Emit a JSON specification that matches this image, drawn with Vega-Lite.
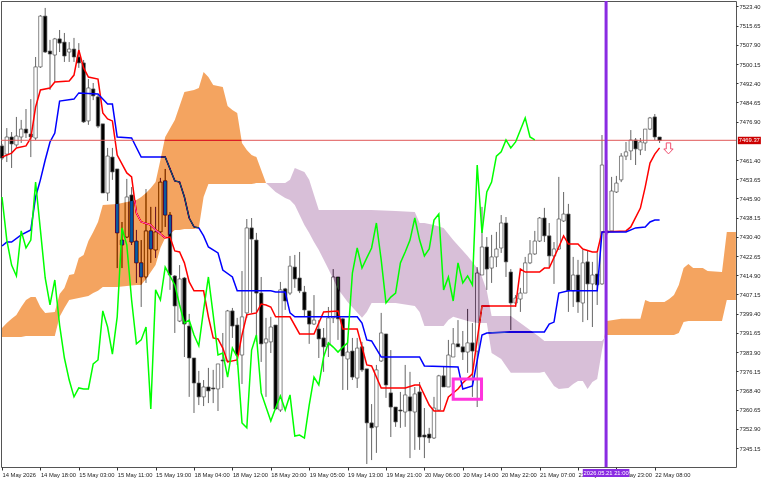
{"$schema":"https://vega.github.io/schema/vega-lite/v6.json","width":735,"height":466,"autosize":{"type":"none"},"padding":{"left":1,"top":1,"right":32,"bottom":13},"background":"#ffffff",
"config":{"view":{"stroke":"#555555","strokeWidth":1,"fill":"#ffffff"},"font":"Liberation Sans"},
"resolve":{"axis":{"x":"independent","y":"independent"}},
"datasets":{
"candles":[
{"i":0,"h":7467.9,"o":7467.1,"c":7462.2,"l":7461.4},{"i":1,"h":7474.3,"o":7463.8,"c":7470.7,"l":7460.6},{"i":2,"h":7472.7,"o":7470.7,"c":7467.9,"l":7458.2},{"i":3,"h":7478.8,"o":7467.5,"c":7471.1,"l":7466.7},{"i":4,"h":7477.6,"o":7470.7,"c":7473.9,"l":7468.3},{"i":5,"h":7482.0,"o":7473.9,"c":7472.3,"l":7470.3},{"i":6,"h":7486.0,"o":7471.9,"c":7470.7,"l":7462.6},{"i":7,"h":7503.0,"o":7470.3,"c":7499.0,"l":7469.5},{"i":8,"h":7519.9,"o":7499.0,"c":7519.5,"l":7498.6},{"i":9,"h":7522.8,"o":7519.5,"c":7505.0,"l":7504.6},
{"i":10,"h":7509.9,"o":7505.4,"c":7504.2,"l":7489.7},{"i":11,"h":7510.7,"o":7503.8,"c":7510.3,"l":7492.9},{"i":12,"h":7513.9,"o":7510.3,"c":7508.6,"l":7505.0},{"i":13,"h":7512.7,"o":7509.0,"c":7503.4,"l":7501.0},{"i":14,"h":7509.0,"o":7505.0,"c":7506.2,"l":7501.0},{"i":15,"h":7510.7,"o":7506.2,"c":7503.0,"l":7501.0},{"i":16,"h":7508.6,"o":7503.0,"c":7500.6,"l":7498.6},{"i":17,"h":7501.8,"o":7500.6,"c":7476.8,"l":7476.4},{"i":18,"h":7494.1,"o":7477.2,"c":7490.5,"l":7475.6},{"i":19,"h":7492.5,"o":7490.1,"c":7487.3,"l":7485.6},
{"i":20,"h":7487.7,"o":7486.9,"c":7475.1,"l":7474.3},{"i":21,"h":7476.0,"o":7476.0,"c":7448.1,"l":7448.1},{"i":22,"h":7466.3,"o":7448.1,"c":7463.0,"l":7444.9},{"i":23,"h":7466.3,"o":7462.6,"c":7456.6,"l":7453.4},{"i":24,"h":7457.8,"o":7457.8,"c":7432.0,"l":7417.8},{"i":25,"h":7436.4,"o":7429.1,"c":7427.1,"l":7417.8},{"i":26,"h":7453.8,"o":7430.3,"c":7446.5,"l":7429.9},{"i":27,"h":7450.5,"o":7447.3,"c":7428.3,"l":7427.1},{"i":28,"h":7433.2,"o":7428.7,"c":7419.9,"l":7411.8},{"i":29,"h":7429.1,"o":7419.9,"c":7414.2,"l":7402.1},
{"i":30,"h":7449.7,"o":7414.2,"c":7432.8,"l":7411.8},{"i":31,"h":7442.5,"o":7432.8,"c":7425.5,"l":7419.9},{"i":32,"h":7442.5,"o":7425.1,"c":7432.4,"l":7421.9},{"i":33,"h":7454.2,"o":7432.4,"c":7452.5,"l":7431.2},{"i":34,"h":7457.8,"o":7453.0,"c":7439.2,"l":7434.4},{"i":35,"h":7440.4,"o":7439.2,"c":7415.0,"l":7409.0},{"i":36,"h":7415.0,"o":7414.6,"c":7402.5,"l":7391.6},{"i":37,"h":7419.0,"o":7396.4,"c":7413.4,"l":7396.0},{"i":38,"h":7414.2,"o":7413.8,"c":7395.2,"l":7381.9},{"i":39,"h":7399.3,"o":7394.4,"c":7381.5,"l":7365.8},
{"i":40,"h":7381.5,"o":7381.5,"c":7371.4,"l":7359.3},{"i":41,"h":7376.3,"o":7371.4,"c":7365.8,"l":7362.5},{"i":42,"h":7372.6,"o":7365.8,"c":7369.8,"l":7362.1},{"i":43,"h":7377.5,"o":7369.8,"c":7368.2,"l":7363.3},{"i":44,"h":7376.7,"o":7369.4,"c":7369.0,"l":7363.3},{"i":45,"h":7379.1,"o":7369.0,"c":7379.1,"l":7360.1},{"i":46,"h":7391.6,"o":7380.7,"c":7380.3,"l":7369.4},{"i":47,"h":7400.9,"o":7380.3,"c":7400.5,"l":7379.9},{"i":48,"h":7401.7,"o":7400.5,"c":7394.4,"l":7389.6},{"i":49,"h":7397.7,"o":7394.8,"c":7382.7,"l":7378.7},
{"i":50,"h":7416.6,"o":7382.7,"c":7398.1,"l":7371.0},{"i":51,"h":7437.6,"o":7399.7,"c":7434.0,"l":7397.7},{"i":52,"h":7438.0,"o":7434.0,"c":7429.5,"l":7399.7},{"i":53,"h":7432.0,"o":7429.1,"c":7407.7,"l":7388.0},{"i":54,"h":7414.2,"o":7407.7,"c":7387.2,"l":7379.9},{"i":55,"h":7397.7,"o":7387.6,"c":7389.2,"l":7365.8},{"i":56,"h":7398.1,"o":7388.0,"c":7394.0,"l":7383.5},{"i":57,"h":7394.8,"o":7394.8,"c":7360.9,"l":7360.5},{"i":58,"h":7412.2,"o":7360.5,"c":7409.0,"l":7359.7},{"i":59,"h":7409.8,"o":7409.4,"c":7404.5,"l":7400.9},
{"i":60,"h":7422.7,"o":7407.7,"c":7418.6,"l":7406.9},{"i":61,"h":7423.1,"o":7418.2,"c":7413.4,"l":7409.8},{"i":62,"h":7424.3,"o":7413.8,"c":7408.6,"l":7407.7},{"i":63,"h":7410.6,"o":7408.1,"c":7400.9,"l":7398.1},{"i":64,"h":7400.5,"o":7400.5,"c":7395.2,"l":7387.2},{"i":65,"h":7406.9,"o":7395.2,"c":7396.8,"l":7394.8},{"i":66,"h":7396.8,"o":7393.2,"c":7389.2,"l":7381.5},{"i":67,"h":7393.6,"o":7389.6,"c":7386.0,"l":7375.9},{"i":68,"h":7402.1,"o":7386.8,"c":7397.7,"l":7381.9},{"i":69,"h":7417.4,"o":7397.7,"c":7414.2,"l":7395.6},
{"i":70,"h":7414.2,"o":7414.2,"c":7397.3,"l":7388.8},{"i":71,"h":7397.7,"o":7397.3,"c":7382.3,"l":7368.6},{"i":72,"h":7388.8,"o":7381.1,"c":7383.9,"l":7368.6},{"i":73,"h":7389.6,"o":7384.3,"c":7373.8,"l":7372.6},{"i":74,"h":7389.6,"o":7373.4,"c":7385.5,"l":7369.4},{"i":75,"h":7388.0,"o":7386.0,"c":7376.7,"l":7375.9},{"i":76,"h":7377.1,"o":7377.1,"c":7355.3,"l":7338.7},{"i":77,"h":7362.9,"o":7355.3,"c":7353.3,"l":7340.3},{"i":78,"h":7378.7,"o":7353.7,"c":7376.7,"l":7343.2},{"i":79,"h":7399.7,"o":7380.3,"c":7391.6,"l":7379.9},
{"i":80,"h":7391.2,"o":7391.2,"c":7370.6,"l":7365.4},{"i":81,"h":7384.7,"o":7367.4,"c":7361.7,"l":7349.6},{"i":82,"h":7361.7,"o":7361.7,"c":7355.7,"l":7353.7},{"i":83,"h":7367.8,"o":7360.5,"c":7360.1,"l":7353.3},{"i":84,"h":7378.7,"o":7359.7,"c":7366.6,"l":7353.7},{"i":85,"h":7375.9,"o":7365.8,"c":7360.1,"l":7341.1},{"i":86,"h":7369.8,"o":7359.7,"c":7367.0,"l":7344.4},{"i":87,"h":7371.8,"o":7367.8,"c":7349.6,"l":7344.4},{"i":88,"h":7361.3,"o":7350.4,"c":7349.6,"l":7341.1},{"i":89,"h":7353.3,"o":7350.8,"c":7349.2,"l":7347.2},
{"i":90,"h":7365.8,"o":7349.2,"c":7361.3,"l":7348.8},{"i":91,"h":7374.7,"o":7360.5,"c":7374.3,"l":7360.1},{"i":92,"h":7377.9,"o":7374.3,"c":7369.8,"l":7369.8},{"i":93,"h":7388.8,"o":7369.8,"c":7382.7,"l":7369.8},{"i":94,"h":7393.6,"o":7381.9,"c":7387.2,"l":7381.9},{"i":95,"h":7396.8,"o":7387.2,"c":7386.0,"l":7386.0},{"i":96,"h":7392.4,"o":7386.0,"c":7383.9,"l":7380.7},{"i":97,"h":7401.3,"o":7383.9,"c":7387.6,"l":7375.5},{"i":98,"h":7395.6,"o":7387.6,"c":7384.3,"l":7365.8},{"i":99,"h":7418.2,"o":7384.3,"c":7415.8,"l":7361.7},
{"i":100,"h":7442.5,"o":7415.0,"c":7426.3,"l":7415.0},{"i":101,"h":7430.3,"o":7426.3,"c":7417.4,"l":7409.0},{"i":102,"h":7431.2,"o":7417.8,"c":7422.3,"l":7411.8},{"i":103,"h":7432.4,"o":7422.3,"c":7425.5,"l":7418.2},{"i":104,"h":7439.2,"o":7425.9,"c":7436.0,"l":7423.9},{"i":105,"h":7438.4,"o":7436.0,"c":7420.3,"l":7414.2},{"i":106,"h":7417.4,"o":7416.2,"c":7403.7,"l":7392.8},{"i":107,"h":7406.9,"o":7403.7,"c":7405.7,"l":7402.1},{"i":108,"h":7409.8,"o":7405.3,"c":7407.7,"l":7400.1},{"i":109,"h":7422.3,"o":7407.7,"c":7419.9,"l":7407.7},
{"i":110,"h":7429.1,"o":7419.9,"c":7423.5,"l":7419.4},{"i":111,"h":7432.8,"o":7423.5,"c":7428.7,"l":7423.1},{"i":112,"h":7438.4,"o":7428.7,"c":7438.0,"l":7428.3},{"i":113,"h":7442.1,"o":7438.0,"c":7430.8,"l":7428.3},{"i":114,"h":7436.0,"o":7430.8,"c":7422.7,"l":7418.2},{"i":115,"h":7428.3,"o":7422.7,"c":7425.5,"l":7411.4},{"i":116,"h":7454.6,"o":7425.5,"c":7437.6,"l":7425.1},{"i":117,"h":7448.5,"o":7436.8,"c":7439.6,"l":7436.4},{"i":118,"h":7443.7,"o":7439.6,"c":7408.6,"l":7400.1},{"i":119,"h":7422.3,"o":7408.6,"c":7415.0,"l":7402.1},
{"i":120,"h":7421.1,"o":7415.0,"c":7404.1,"l":7399.7},{"i":121,"h":7425.1,"o":7403.7,"c":7419.9,"l":7396.0},{"i":122,"h":7424.7,"o":7420.3,"c":7411.4,"l":7396.8},{"i":123,"h":7420.3,"o":7411.4,"c":7415.0,"l":7394.0},{"i":124,"h":7423.9,"o":7415.4,"c":7411.0,"l":7402.9},{"i":125,"h":7471.5,"o":7411.4,"c":7459.4,"l":7411.0},{"i":126,"h":7461.4,"o":7432.8,"c":7432.0,"l":7431.2},{"i":127,"h":7454.6,"o":7432.8,"c":7448.9,"l":7432.4},{"i":128,"h":7455.0,"o":7448.5,"c":7452.1,"l":7448.1},{"i":129,"h":7464.2,"o":7453.4,"c":7463.0,"l":7452.5},
{"i":130,"h":7468.7,"o":7463.0,"c":7464.7,"l":7461.4},{"i":131,"h":7473.5,"o":7465.1,"c":7469.5,"l":7461.4},{"i":132,"h":7470.3,"o":7469.5,"c":7465.9,"l":7459.4},{"i":133,"h":7470.3,"o":7465.5,"c":7468.7,"l":7463.4},{"i":134,"h":7473.9,"o":7468.3,"c":7473.9,"l":7465.1},{"i":135,"h":7478.8,"o":7473.9,"c":7478.4,"l":7473.5},{"i":136,"h":7480.0,"o":7478.8,"c":7470.7,"l":7469.5},{"i":137,"h":7470.7,"o":7470.7,"c":7469.3,"l":7468.3}],
"red":[{"i":0,"p":7462.6},{"i":2,"p":7464.2},{"i":3,"p":7466.3},{"i":5,"p":7467.1},{"i":6,"p":7470.3},{"i":7,"p":7482.8},{"i":8,"p":7489.7},{"i":10,"p":7490.5},{"i":11,"p":7492.9},{"i":14,"p":7493.3},{"i":15,"p":7495.7},{"i":16,"p":7505.8},{"i":17,"p":7498.6},{"i":18,"p":7494.9},{"i":20,"p":7494.1},{"i":21,"p":7480.4},{"i":22,"p":7478.0},{"i":23,"p":7477.2},{"i":24,"p":7463.4},{"i":26,"p":7456.2},{"i":27,"p":7454.6},{"i":28,"p":7440.0},{"i":29,"p":7436.4},{"i":31,"p":7435.2},{"i":32,"p":7433.2},{"i":34,"p":7430.0},{"i":35,"p":7430.3},{"i":36,"p":7424.7},{"i":37,"p":7424.3},{"i":38,"p":7419.9},{"i":39,"p":7412.2},{"i":40,"p":7408.6},{"i":42,"p":7408.6},{"i":43,"p":7398.1},{"i":44,"p":7389.6},{"i":45,"p":7389.2},{"i":46,"p":7385.5},{"i":47,"p":7379.9},{"i":49,"p":7380.7},{"i":50,"p":7390.8},{"i":51,"p":7398.9},{"i":53,"p":7399.7},{"i":54,"p":7403.3},{"i":55,"p":7402.9},{"i":56,"p":7402.1},{"i":57,"p":7398.1},{"i":60,"p":7398.1},{"i":62,"p":7391.2},{"i":65,"p":7391.2},{"i":67,"p":7400.1},{"i":70,"p":7400.5},{"i":71,"p":7393.2},{"i":74,"p":7393.2},{"i":76,"p":7378.7},{"i":77,"p":7378.3},{"i":79,"p":7369.4},{"i":84,"p":7369.4},{"i":86,"p":7370.6},{"i":87,"p":7370.6},{"i":89,"p":7362.5},{"i":90,"p":7360.1},{"i":92,"p":7360.1},{"i":93,"p":7365.8},{"i":95,"p":7369.0},{"i":96,"p":7371.4},{"i":98,"p":7375.1},{"i":99,"p":7388.8},{"i":100,"p":7402.5},{"i":107,"p":7402.5},{"i":108,"p":7417.4},{"i":109,"p":7416.2},{"i":112,"p":7416.2},{"i":113,"p":7417.8},{"i":114,"p":7417.8},{"i":116,"p":7426.3},{"i":117,"p":7430.8},{"i":118,"p":7427.5},{"i":120,"p":7427.5},{"i":121,"p":7425.5},{"i":123,"p":7424.3},{"i":124,"p":7424.3},{"i":125,"p":7432.4},{"i":130,"p":7432.8},{"i":131,"p":7434.4},{"i":133,"p":7442.0},{"i":134,"p":7450.5},{"i":135,"p":7460.2},{"i":136,"p":7463.8},{"i":137,"p":7466.3}],
"blue":[{"i":0,"p":7426.7},{"i":1,"p":7428.3},{"i":2,"p":7428.3},{"i":4,"p":7431.2},{"i":6,"p":7433.2},{"i":7,"p":7446.5},{"i":8,"p":7453.4},{"i":9,"p":7461.4},{"i":10,"p":7468.7},{"i":11,"p":7472.3},{"i":12,"p":7485.2},{"i":15,"p":7486.0},{"i":16,"p":7488.5},{"i":20,"p":7488.1},{"i":22,"p":7484.0},{"i":23,"p":7484.0},{"i":24,"p":7470.7},{"i":27,"p":7470.3},{"i":29,"p":7462.6},{"i":34,"p":7462.6},{"i":36,"p":7453.0},{"i":37,"p":7452.5},{"i":38,"p":7446.5},{"i":39,"p":7438.0},{"i":40,"p":7434.4},{"i":41,"p":7434.0},{"i":42,"p":7430.8},{"i":43,"p":7426.3},{"i":45,"p":7423.9},{"i":46,"p":7417.0},{"i":48,"p":7414.2},{"i":49,"p":7408.6},{"i":56,"p":7408.6},{"i":57,"p":7408.1},{"i":59,"p":7408.1},{"i":60,"p":7399.7},{"i":61,"p":7398.1},{"i":74,"p":7398.1},{"i":75,"p":7395.6},{"i":76,"p":7388.8},{"i":77,"p":7388.4},{"i":79,"p":7381.9},{"i":87,"p":7381.9},{"i":88,"p":7378.3},{"i":95,"p":7377.9},{"i":96,"p":7369.0},{"i":98,"p":7370.2},{"i":100,"p":7390.8},{"i":101,"p":7391.6},{"i":106,"p":7392.0},{"i":113,"p":7392.0},{"i":114,"p":7395.2},{"i":115,"p":7396.0},{"i":116,"p":7407.7},{"i":118,"p":7408.6},{"i":124,"p":7408.6},{"i":125,"p":7432.4},{"i":130,"p":7432.4},{"i":132,"p":7434.0},{"i":134,"p":7434.4},{"i":135,"p":7436.4},{"i":136,"p":7437.2},{"i":137,"p":7437.2}],
"green":[{"i":0,"p":7446.5},{"i":1,"p":7429.1},{"i":2,"p":7419.0},{"i":3,"p":7414.6},{"i":4,"p":7432.8},{"i":5,"p":7425.9},{"i":6,"p":7429.1},{"i":7,"p":7452.5},{"i":8,"p":7433.2},{"i":9,"p":7413.8},{"i":10,"p":7402.9},{"i":11,"p":7413.0},{"i":12,"p":7394.8},{"i":13,"p":7381.5},{"i":14,"p":7372.6},{"i":15,"p":7365.8},{"i":16,"p":7369.4},{"i":17,"p":7369.0},{"i":18,"p":7369.0},{"i":19,"p":7379.1},{"i":20,"p":7380.7},{"i":21,"p":7400.5},{"i":22,"p":7394.0},{"i":23,"p":7383.1},{"i":24,"p":7398.1},{"i":25,"p":7434.0},{"i":26,"p":7427.1},{"i":27,"p":7404.9},{"i":28,"p":7387.2},{"i":29,"p":7388.8},{"i":30,"p":7394.0},{"i":31,"p":7360.9},{"i":32,"p":7409.0},{"i":33,"p":7404.9},{"i":34,"p":7418.2},{"i":35,"p":7414.6},{"i":36,"p":7411.0},{"i":37,"p":7402.9},{"i":38,"p":7395.6},{"i":39,"p":7396.8},{"i":40,"p":7390.8},{"i":41,"p":7386.4},{"i":42,"p":7400.9},{"i":43,"p":7414.2},{"i":44,"p":7398.9},{"i":45,"p":7382.7},{"i":46,"p":7383.5},{"i":47,"p":7373.8},{"i":48,"p":7385.5},{"i":49,"p":7381.9},{"i":50,"p":7355.3},{"i":51,"p":7353.3},{"i":52,"p":7384.7},{"i":53,"p":7390.8},{"i":54,"p":7367.4},{"i":55,"p":7361.7},{"i":56,"p":7356.1},{"i":57,"p":7361.3},{"i":58,"p":7366.2},{"i":59,"p":7360.5},{"i":60,"p":7366.6},{"i":61,"p":7350.0},{"i":62,"p":7350.4},{"i":63,"p":7349.2},{"i":64,"p":7362.5},{"i":65,"p":7373.8},{"i":66,"p":7370.6},{"i":67,"p":7381.9},{"i":68,"p":7387.6},{"i":69,"p":7385.9},{"i":70,"p":7383.9},{"i":71,"p":7385.9},{"i":72,"p":7387.6},{"i":73,"p":7415.8},{"i":74,"p":7425.9},{"i":75,"p":7417.8},{"i":76,"p":7421.9},{"i":77,"p":7425.9},{"i":78,"p":7436.0},{"i":79,"p":7421.1},{"i":80,"p":7403.7},{"i":81,"p":7406.1},{"i":82,"p":7407.7},{"i":83,"p":7419.9},{"i":84,"p":7424.3},{"i":85,"p":7429.1},{"i":86,"p":7438.0},{"i":87,"p":7429.1},{"i":88,"p":7422.7},{"i":89,"p":7425.5},{"i":90,"p":7437.2},{"i":91,"p":7439.6},{"i":92,"p":7409.0},{"i":93,"p":7414.2},{"i":94,"p":7404.5},{"i":95,"p":7419.9},{"i":96,"p":7411.8},{"i":97,"p":7414.6},{"i":98,"p":7411.0},{"i":99,"p":7459.4},{"i":100,"p":7432.0},{"i":101,"p":7448.5},{"i":102,"p":7452.5},{"i":103,"p":7463.0},{"i":104,"p":7464.7},{"i":105,"p":7469.5},{"i":106,"p":7466.3},{"i":107,"p":7468.7},{"i":108,"p":7473.5},{"i":109,"p":7478.4},{"i":110,"p":7470.7},{"i":111,"p":7469.5}],
"kumo":[
{"s":"a","k":"up","i":0,"t":7393.6,"b":7390.0},{"s":"a","k":"up","i":1,"t":7395.6,"b":7390.0},{"s":"a","k":"up","i":2,"t":7397.3,"b":7390.0},{"s":"a","k":"up","i":3,"t":7398.9,"b":7390.0},{"s":"a","k":"up","i":4,"t":7402.1,"b":7390.0},{"s":"a","k":"up","i":5,"t":7404.9,"b":7390.4},{"s":"a","k":"up","i":6,"t":7406.1,"b":7390.4},{"s":"a","k":"up","i":7,"t":7406.1,"b":7390.4},{"s":"a","k":"up","i":8,"t":7402.1,"b":7390.4},{"s":"a","k":"up","i":9,"t":7399.7,"b":7390.4},{"s":"a","k":"up","i":11,"t":7400.1,"b":7390.4},{"s":"a","k":"up","i":12,"t":7407.3,"b":7398.1},{"s":"a","k":"up","i":13,"t":7409.8,"b":7401.7},{"s":"a","k":"up","i":14,"t":7415.0,"b":7404.9},{"s":"a","k":"up","i":15,"t":7415.4,"b":7405.3},{"s":"a","k":"up","i":16,"t":7421.9,"b":7405.7},{"s":"a","k":"up","i":17,"t":7423.1,"b":7406.1},{"s":"a","k":"up","i":18,"t":7428.7,"b":7406.5},{"s":"a","k":"up","i":19,"t":7432.4,"b":7407.7},{"s":"a","k":"up","i":20,"t":7436.4,"b":7408.6},{"s":"a","k":"up","i":21,"t":7443.3,"b":7410.2},{"s":"a","k":"up","i":24,"t":7443.7,"b":7410.2},{"s":"a","k":"up","i":28,"t":7445.3,"b":7411.0},{"s":"a","k":"up","i":29,"t":7446.5,"b":7411.0},{"s":"a","k":"up","i":30,"t":7448.1,"b":7413.4},{"s":"a","k":"up","i":31,"t":7450.1,"b":7416.2},{"s":"a","k":"up","i":32,"t":7452.5,"b":7419.0},{"s":"a","k":"up","i":33,"t":7461.4,"b":7425.9},{"s":"a","k":"up","i":34,"t":7470.7,"b":7430.0},{"s":"a","k":"up","i":36,"t":7477.6,"b":7433.2},{"s":"a","k":"up","i":37,"t":7483.2,"b":7433.2},{"s":"a","k":"up","i":38,"t":7488.9,"b":7433.6},{"s":"a","k":"up","i":40,"t":7489.7,"b":7433.6},{"s":"a","k":"up","i":41,"t":7490.5,"b":7434.0},{"s":"a","k":"up","i":42,"t":7496.9,"b":7446.5},{"s":"a","k":"up","i":43,"t":7494.9,"b":7451.7},{"s":"a","k":"up","i":44,"t":7491.7,"b":7451.7},{"s":"a","k":"up","i":46,"t":7490.9,"b":7451.7},{"s":"a","k":"up","i":47,"t":7483.2,"b":7451.7},{"s":"a","k":"up","i":48,"t":7481.6,"b":7451.7},{"s":"a","k":"up","i":49,"t":7480.4,"b":7451.7},{"s":"a","k":"up","i":50,"t":7468.3,"b":7451.7},{"s":"a","k":"up","i":51,"t":7465.5,"b":7451.7},{"s":"a","k":"up","i":52,"t":7463.4,"b":7451.7},{"s":"a","k":"up","i":53,"t":7462.6,"b":7452.1},{"s":"a","k":"up","i":55,"t":7452.1,"b":7452.1},
{"s":"b","k":"down","i":55,"t":7452.1,"b":7452.1},{"s":"b","k":"down","i":57,"t":7452.1,"b":7448.5},{"s":"b","k":"down","i":59,"t":7452.1,"b":7446.1},{"s":"b","k":"down","i":60,"t":7453.4,"b":7445.3},{"s":"b","k":"down","i":61,"t":7458.2,"b":7443.3},{"s":"b","k":"down","i":63,"t":7456.6,"b":7435.2},{"s":"b","k":"down","i":64,"t":7453.4,"b":7432.0},{"s":"b","k":"down","i":65,"t":7447.3,"b":7428.3},{"s":"b","k":"down","i":66,"t":7441.2,"b":7425.1},{"s":"b","k":"down","i":68,"t":7441.2,"b":7417.4},{"s":"b","k":"down","i":70,"t":7441.2,"b":7409.4},{"s":"b","k":"down","i":72,"t":7441.2,"b":7404.1},{"s":"b","k":"down","i":75,"t":7441.2,"b":7397.7},{"s":"b","k":"down","i":76,"t":7441.2,"b":7400.1},{"s":"b","k":"down","i":77,"t":7441.2,"b":7403.7},{"s":"b","k":"down","i":82,"t":7440.8,"b":7403.7},{"s":"b","k":"down","i":86,"t":7440.4,"b":7402.5},{"s":"b","k":"down","i":87,"t":7436.0,"b":7400.1},{"s":"b","k":"down","i":88,"t":7436.0,"b":7394.4},{"s":"b","k":"down","i":90,"t":7435.2,"b":7394.4},{"s":"b","k":"down","i":92,"t":7434.0,"b":7394.4},{"s":"b","k":"down","i":93,"t":7431.6,"b":7396.8},{"s":"b","k":"down","i":94,"t":7429.1,"b":7398.1},{"s":"b","k":"down","i":97,"t":7422.7,"b":7396.4},{"s":"b","k":"down","i":99,"t":7417.8,"b":7395.6},{"s":"b","k":"down","i":100,"t":7414.2,"b":7395.6},{"s":"b","k":"down","i":101,"t":7408.6,"b":7395.6},{"s":"b","k":"down","i":102,"t":7398.5,"b":7383.5},{"s":"b","k":"down","i":104,"t":7398.5,"b":7381.1},{"s":"b","k":"down","i":105,"t":7398.5,"b":7378.3},{"s":"b","k":"down","i":106,"t":7398.5,"b":7375.5},{"s":"b","k":"down","i":112,"t":7390.0,"b":7375.5},{"s":"b","k":"down","i":113,"t":7388.4,"b":7375.9},{"s":"b","k":"down","i":115,"t":7388.4,"b":7370.2},{"s":"b","k":"down","i":116,"t":7388.4,"b":7369.0},{"s":"b","k":"down","i":118,"t":7388.4,"b":7369.4},{"s":"b","k":"down","i":119,"t":7388.4,"b":7371.0},{"s":"b","k":"down","i":120,"t":7388.4,"b":7372.2},{"s":"b","k":"down","i":121,"t":7388.4,"b":7372.2},{"s":"b","k":"down","i":122,"t":7388.4,"b":7369.0},{"s":"b","k":"down","i":123,"t":7388.4,"b":7371.8},{"s":"b","k":"down","i":124,"t":7388.4,"b":7373.0},{"s":"b","k":"down","i":125,"t":7388.4,"b":7384.7},{"s":"b","k":"down","i":125.5,"t":7389.6,"b":7389.6},
{"s":"c","k":"up","i":125.5,"t":7389.6,"b":7389.6},{"s":"c","k":"up","i":126,"t":7396.4,"b":7390.8},{"s":"c","k":"up","i":129,"t":7397.3,"b":7390.8},{"s":"c","k":"up","i":133,"t":7397.3,"b":7390.8},{"s":"c","k":"up","i":134,"t":7404.9,"b":7390.8},{"s":"c","k":"up","i":135,"t":7404.1,"b":7390.8},{"s":"c","k":"up","i":138,"t":7404.1,"b":7390.8},{"s":"c","k":"up","i":139,"t":7405.3,"b":7390.8},{"s":"c","k":"up","i":140,"t":7406.9,"b":7390.8},{"s":"c","k":"up","i":141,"t":7411.0,"b":7391.6},{"s":"c","k":"up","i":142,"t":7417.8,"b":7396.0},{"s":"c","k":"up","i":143,"t":7419.4,"b":7396.4},{"s":"c","k":"up","i":144,"t":7417.8,"b":7396.4},{"s":"c","k":"up","i":146,"t":7417.8,"b":7396.4},{"s":"c","k":"up","i":147,"t":7416.6,"b":7396.4},{"s":"c","k":"up","i":150,"t":7416.2,"b":7396.4},{"s":"c","k":"up","i":151,"t":7432.4,"b":7404.9},{"s":"c","k":"up","i":152.9,"t":7432.4,"b":7404.9}]
},
"layer":[
{"data":{"name":"candles"},"mark":{"type":"rule","color":"#666666","strokeWidth":1},"encoding":{
"x":{"field":"i","type":"quantitative","scale":{"domain":[-0.2083,152.917],"nice":false,"zero":false,"padding":0},"axis":{"title":null,"grid":false,"domain":false,"values":[0,8,16,24,32,40,48,56,64,72,80,88,96,104,112,120,128,136],"tickSize":3,"tickColor":"#333333","labelAlign":"left","labelPadding":1,"labelFontSize":5.8,"labelColor":"#222222","labelOverlap":false,"labelFlush":false,"labelBound":false,"labelExpr":"['14 May 2026','14 May 18:00','15 May 03:00','15 May 11:00','15 May 19:00','18 May 04:00','18 May 12:00','18 May 20:00','19 May 05:00','19 May 13:00','19 May 21:00','20 May 06:00','20 May 14:00','20 May 22:00','21 May 07:00','21 May 15:00','21 May 23:00','22 May 08:00'][datum.value/8]"}},
"y":{"field":"h","type":"quantitative","scale":{"domain":[7337.5,7525.6],"nice":false,"zero":false},"axis":{"title":null,"grid":false,"domain":false,"orient":"right","values":[7523.4,7515.65,7507.9,7500.15,7492.4,7484.65,7476.9,7461.4,7453.65,7445.9,7438.15,7430.4,7422.65,7414.9,7407.15,7399.4,7391.65,7383.9,7376.15,7368.4,7360.65,7352.9,7345.15],"format":".2f","tickSize":2,"tickColor":"#333333","labelPadding":1,"labelFontSize":5.8,"labelColor":"#222222","labelOverlap":false,"labelFlush":false,"labelBound":false}},
"y2":{"field":"l"}}},
{"data":{"name":"candles"},"mark":{"type":"bar","size":3.4,"orient":"vertical","stroke":"#555555","strokeWidth":0.7},"encoding":{
"x":{"field":"i","type":"quantitative","scale":{"domain":[-0.2083,152.917],"nice":false,"zero":false,"padding":0},"axis":null},
"y":{"field":"o","type":"quantitative","scale":{"domain":[7337.5,7525.6],"nice":false,"zero":false},"axis":null},
"y2":{"field":"c"},
"color":{"condition":{"test":"datum.c>=datum.o","value":"#ffffff"},"value":"#000000"}}},
{"data":{"name":"red"},"mark":{"type":"line","color":"#ff0000","strokeWidth":1.5},"encoding":{
"x":{"field":"i","type":"quantitative","scale":{"domain":[-0.2083,152.917],"nice":false,"zero":false,"padding":0},"axis":null},
"y":{"field":"p","type":"quantitative","scale":{"domain":[7337.5,7525.6],"nice":false,"zero":false},"axis":null}}},
{"data":{"name":"blue"},"mark":{"type":"line","color":"#0000ff","strokeWidth":1.5},"encoding":{
"x":{"field":"i","type":"quantitative","scale":{"domain":[-0.2083,152.917],"nice":false,"zero":false,"padding":0},"axis":null},
"y":{"field":"p","type":"quantitative","scale":{"domain":[7337.5,7525.6],"nice":false,"zero":false},"axis":null}}},
{"data":{"values":[{"p":7469.37}]},"mark":{"type":"rule","color":"#e05858","strokeWidth":1},"encoding":{
"y":{"field":"p","type":"quantitative","scale":{"domain":[7337.5,7525.6],"nice":false,"zero":false},"axis":null}}},
{"data":{"name":"kumo"},"mark":{"type":"area","blend":"difference","interpolate":"linear","opacity":1},"encoding":{
"x":{"field":"i","type":"quantitative","scale":{"domain":[-0.2083,152.917],"nice":false,"zero":false,"padding":0},"axis":null},
"y":{"field":"t","type":"quantitative","scale":{"domain":[7337.5,7525.6],"nice":false,"zero":false},"axis":null},
"y2":{"field":"b"},
"color":{"field":"k","type":"nominal","scale":{"domain":["up","down"],"range":["#0b5b9f","#274027"]},"legend":null},
"detail":{"field":"s"}}},
{"data":{"name":"green"},"mark":{"type":"line","color":"#00ff00","strokeWidth":1.5},"encoding":{
"x":{"field":"i","type":"quantitative","scale":{"domain":[-0.2083,152.917],"nice":false,"zero":false,"padding":0},"axis":null},
"y":{"field":"p","type":"quantitative","scale":{"domain":[7337.5,7525.6],"nice":false,"zero":false},"axis":null}}},
{"data":{"values":[{"i":125.85}]},"mark":{"type":"rule","color":"#8a2be2","strokeWidth":3},"encoding":{
"x":{"field":"i","type":"quantitative","scale":{"domain":[-0.2083,152.917],"nice":false,"zero":false,"padding":0},"axis":null}}},
{"data":{"values":[{"i":94,"i2":99.9,"p":7373.0,"p2":7364.8}]},"mark":{"type":"rect","fill":null,"fillOpacity":0,"stroke":"#ff33dd","strokeWidth":3},"encoding":{
"x":{"field":"i","type":"quantitative","scale":{"domain":[-0.2083,152.917],"nice":false,"zero":false,"padding":0},"axis":null},"x2":{"field":"i2"},
"y":{"field":"p","type":"quantitative","scale":{"domain":[7337.5,7525.6],"nice":false,"zero":false},"axis":null},"y2":{"field":"p2"}}},
{"data":{"values":[{"i":138.85,"p":7466.1}]},"mark":{"type":"point","shape":"M-0.4,-1L0.4,-1L0.4,0.1L0.85,0.1L0,1L-0.85,0.1L-0.4,0.1Z","size":121,"filled":true,"fill":"#ffffff","stroke":"#f05070","strokeWidth":1,"opacity":1},"encoding":{
"x":{"field":"i","type":"quantitative","scale":{"domain":[-0.2083,152.917],"nice":false,"zero":false,"padding":0},"axis":null},
"y":{"field":"p","type":"quantitative","scale":{"domain":[7337.5,7525.6],"nice":false,"zero":false},"axis":null}}},
{"data":{"values":[{"i":121,"i2":130.7,"p":7336.7,"p2":7333.5,"c":"#8a2be2"},{"i":153.3,"i2":158.1,"p":7470.8,"p2":7467.8,"c":"#cc0000"}]},"mark":{"type":"rect"},"encoding":{
"x":{"field":"i","type":"quantitative","scale":{"domain":[-0.2083,152.917],"nice":false,"zero":false,"padding":0},"axis":null},"x2":{"field":"i2"},
"y":{"field":"p","type":"quantitative","scale":{"domain":[7337.5,7525.6],"nice":false,"zero":false},"axis":null},"y2":{"field":"p2"},
"color":{"field":"c","type":"nominal","scale":null,"legend":null}}},
{"data":{"values":[{"i":125.85,"p":7335.1,"t":"2026.05.21 21:00"},{"i":155.7,"p":7469.3,"t":"7469.37"}]},"mark":{"type":"text","color":"#ffffff","fontSize":5.8,"align":"center","baseline":"middle"},"encoding":{
"x":{"field":"i","type":"quantitative","scale":{"domain":[-0.2083,152.917],"nice":false,"zero":false,"padding":0},"axis":null},
"y":{"field":"p","type":"quantitative","scale":{"domain":[7337.5,7525.6],"nice":false,"zero":false},"axis":null},
"text":{"field":"t"}}}
]}
